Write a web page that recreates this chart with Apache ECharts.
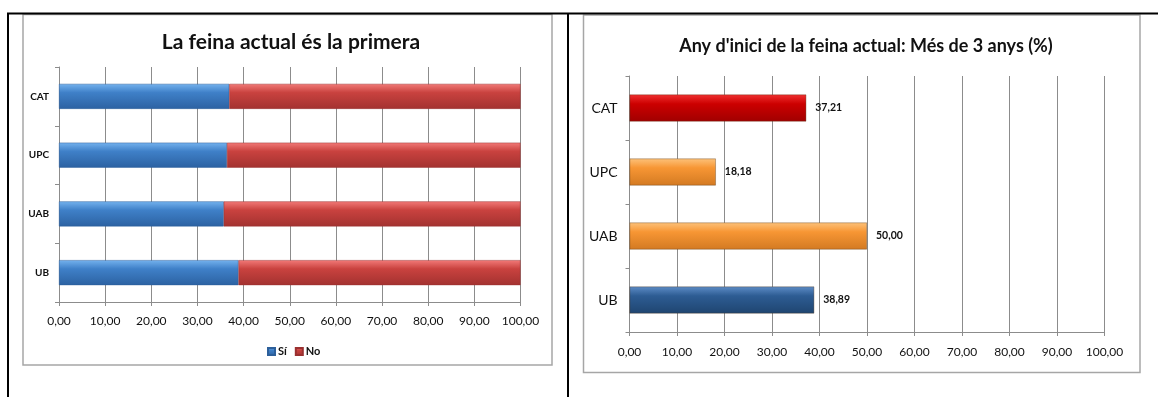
<!DOCTYPE html>
<html><head><meta charset="utf-8">
<script src="https://cdn.jsdelivr.net/npm/echarts@6/dist/echarts.min.js"></script>
<style>html,body{margin:0;padding:0;background:#fff}#c{width:1158px;height:397px}</style>
</head><body><div id="c"></div>
<script>
const categories = ['UB', 'UAB', 'UPC', 'CAT'];
const siValues = [38.9, 35.7, 36.4, 36.9];
const noValues = [61.1, 64.3, 63.6, 63.1];
const startValues = [38.89, 50.00, 18.18, 37.21];
const xTicks = [0, 10, 20, 30, 40, 50, 60, 70, 80, 90, 100];
const leftTitle = 'La feina actual és la primera';
const rightTitle = "Any d'inici de la feina actual: Més de 3 anys (%)";
const seriesNames = ['Sí', 'No'];

const FONT = "Lato, 'Open Sans', sans-serif";
const fmt = v => Number(v).toFixed(2).replace('.', ',');
const vg = (a, b, c) => new echarts.graphic.LinearGradient(0, 0, 0, 1, [
  {offset: 0, color: a}, {offset: 0.35, color: b}, {offset: 1, color: c}]);

const gradBlue = vg('#74b2ee', '#3f80c8', '#2c62a2');
const gradRed = vg('#f27a78', '#c9423f', '#a33230');
const rightColors = {
  UB: vg('#5d8cc6', '#2d5c93', '#1f4570'),
  UAB: vg('#fdc27a', '#f79634', '#d37a22'),
  UPC: vg('#fdc27a', '#f79634', '#d37a22'),
  CAT: vg('#f03030', '#cc0000', '#a00000')
};

const gray = '#8c8c8c';
function valueAxis(gi, margin) {
  return {
    type: 'value', gridIndex: gi, min: xTicks[0], max: xTicks[xTicks.length - 1], interval: 10,
    axisLine: {show: true, lineStyle: {color: gray}},
    axisTick: {show: true, length: 4, lineStyle: {color: gray}},
    splitLine: {show: true, lineStyle: {color: gray, width: 1}},
    axisLabel: {color: '#111', fontFamily: FONT, fontSize: 12, margin: margin, formatter: v => fmt(v)}
  };
}
function catAxis(gi, bold, size, margin) {
  return {
    type: 'category', gridIndex: gi, data: categories,
    axisLine: {show: true, lineStyle: {color: gray}},
    axisTick: {show: true, length: 4, lineStyle: {color: gray}},
    axisLabel: {color: '#111', fontFamily: FONT, fontSize: size, fontWeight: bold ? 'bold' : 'normal', margin: margin}
  };
}

const chart = echarts.init(document.getElementById('c'), null, {renderer: 'canvas'});
chart.setOption({
  animation: false,
  backgroundColor: '#fff',
  graphic: [
    {type: 'rect', shape: {x: 23, y: 14.5, width: 529, height: 350.5}, style: {fill: 'none', stroke: '#a6a6a6', lineWidth: 1.5}, z: -1},
    {type: 'rect', shape: {x: 583.5, y: 15, width: 556.5, height: 357.5}, style: {fill: 'none', stroke: '#a6a6a6', lineWidth: 1.5}, z: -1},
    {type: 'line', shape: {x1: 7, y1: 13.5, x2: 1158, y2: 13.5}, style: {stroke: '#000', lineWidth: 2}, z: 10},
    {type: 'line', shape: {x1: 8, y1: 13, x2: 8, y2: 397}, style: {stroke: '#000', lineWidth: 2}, z: 10},
    {type: 'line', shape: {x1: 568, y1: 13, x2: 568, y2: 397}, style: {stroke: '#000', lineWidth: 2}, z: 10}
  ],
  title: [
    {text: leftTitle, left: 286, top: 27, textAlign: 'center',
     textStyle: {fontFamily: FONT, fontSize: 21, fontWeight: 'bold', color: '#111'}},
    {text: rightTitle, left: 861, top: 32, textAlign: 'center',
     textStyle: {fontFamily: FONT, fontSize: 18, fontWeight: 'bold', color: '#111'}}
  ],
  legend: {
    data: seriesNames, left: 262, top: 341, itemWidth: 7, itemHeight: 7, itemGap: 8,
    icon: 'rect',
    textStyle: {fontFamily: FONT, fontSize: 11, fontWeight: 'bold', color: '#111', padding: [0, 0, 0, -2]}
  },
  grid: [
    {left: 59, right: 1158 - 520.5, top: 67, bottom: 397 - 302},
    {left: 629.5, right: 1158 - 1104.5, top: 76, bottom: 397 - 332}
  ],
  xAxis: [valueAxis(0, 13), valueAxis(1, 14)],
  yAxis: [catAxis(0, true, 10, 10), catAxis(1, false, 14, 12)],
  series: [
    {name: seriesNames[0], type: 'bar', stack: 'a', xAxisIndex: 0, yAxisIndex: 0, barWidth: 25,
     data: siValues, itemStyle: {color: gradBlue, borderColor: '#2d5f9a', borderWidth: 0.5}},
    {name: seriesNames[1], type: 'bar', stack: 'a', xAxisIndex: 0, yAxisIndex: 0, barWidth: 25,
     data: noValues, itemStyle: {color: gradRed, borderColor: '#9a3030', borderWidth: 0.5}},
    {name: 'start', type: 'bar', xAxisIndex: 1, yAxisIndex: 1, barWidth: 27,
     data: startValues.map((v, i) => ({value: v, itemStyle: {color: rightColors[categories[i]]}})),
     itemStyle: {borderColor: 'rgba(80,50,20,0.6)', borderWidth: 0.6},
     label: {show: true, position: 'right', distance: 9, formatter: p => fmt(p.value),
       fontFamily: FONT, fontSize: 10.5, fontWeight: 'bold', color: '#111'}}
  ]
});
</script></body></html>
